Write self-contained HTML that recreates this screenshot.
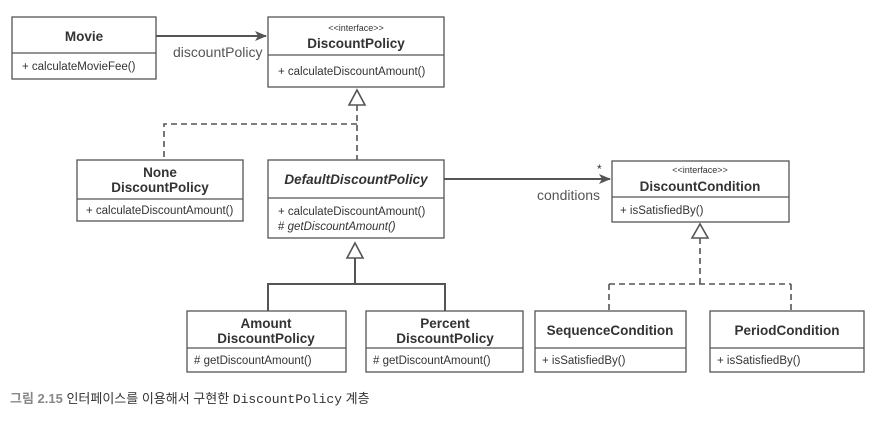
<!DOCTYPE html>
<html><head><meta charset="utf-8"><style>
html,body{margin:0;padding:0;background:#fff;width:881px;height:424px;overflow:hidden}
text{font-family:"Liberation Sans",sans-serif;fill:#333}
.b{font-weight:bold;font-size:13.5px}
.m{font-size:11.5px}
.s{font-size:9px}
</style></head><body>
<svg width="881" height="424" xmlns="http://www.w3.org/2000/svg">
<defs><marker id="ah" markerWidth="12" markerHeight="10" refX="11" refY="5" orient="auto" markerUnits="userSpaceOnUse"><path d="M0,0 L12,5 L0,10 L3,5Z" fill="#555"/></marker></defs>
<g fill="#fff" stroke="#555" stroke-width="1.3">
<rect x="12" y="17" width="144" height="62"/><line x1="12" y1="53" x2="156" y2="53"/>
<rect x="268" y="17" width="176" height="70"/><line x1="268" y1="55" x2="444" y2="55"/>
<rect x="77" y="160" width="166" height="61"/><line x1="77" y1="199" x2="243" y2="199"/>
<rect x="268" y="160" width="176" height="78"/><line x1="268" y1="198" x2="444" y2="198"/>
<rect x="612" y="161" width="177" height="61"/><line x1="612" y1="197" x2="789" y2="197"/>
<rect x="187" y="311" width="159" height="61"/><line x1="187" y1="348" x2="346" y2="348"/>
<rect x="366" y="311" width="157" height="61"/><line x1="366" y1="348" x2="523" y2="348"/>
<rect x="535" y="311" width="151" height="61"/><line x1="535" y1="348" x2="686" y2="348"/>
<rect x="710" y="311" width="154" height="61"/><line x1="710" y1="348" x2="864" y2="348"/>
</g>
<g stroke="#555" stroke-width="2" fill="none">
<line x1="156" y1="36" x2="266" y2="36" marker-end="url(#ah)"/>
<line x1="444" y1="179" x2="610" y2="179" marker-end="url(#ah)"/>
<polyline points="355,258 355,284 268,284 268,311"/>
<polyline points="355,284 445,284 445,311"/>
</g>
<g stroke="#555" stroke-width="1.6" fill="none" stroke-dasharray="6,4">
<polyline points="357,105 357,160"/>
<polyline points="357,124 164,124 164,160"/>
<polyline points="700,238 700,284"/>
<polyline points="609,284 791,284"/>
<polyline points="609,284 609,311"/>
<polyline points="791,284 791,311"/>
</g>
<g fill="#fff" stroke="#555" stroke-width="1.6">
<path d="M357,90 L365,105 L349,105Z"/>
<path d="M355,243 L363,258 L347,258Z"/>
<path d="M700,224 L708,238 L692,238Z"/>
</g>
<text class="b" x="84" y="41" text-anchor="middle">Movie</text>
<text class="m" x="22" y="70">+ calculateMovieFee()</text>
<text class="m" x="173" y="57" style="font-size:14px;fill:#555">discountPolicy</text>
<text class="s" x="356" y="31" text-anchor="middle">&lt;&lt;interface&gt;&gt;</text>
<text class="b" x="356" y="48" text-anchor="middle">DiscountPolicy</text>
<text class="m" x="278" y="75">+ calculateDiscountAmount()</text>
<text class="b" x="160" y="177" text-anchor="middle">None</text>
<text class="b" x="160" y="192" text-anchor="middle">DiscountPolicy</text>
<text class="m" x="86" y="214">+ calculateDiscountAmount()</text>
<text class="b" x="356" y="184" text-anchor="middle" font-style="italic">DefaultDiscountPolicy</text>
<text class="m" x="278" y="215">+ calculateDiscountAmount()</text>
<text class="m" x="278" y="230"># <tspan font-style="italic">getDiscountAmount()</tspan></text>
<text x="597" y="173" style="font-size:12px">*</text>
<text x="537" y="200" style="font-size:14px;fill:#555">conditions</text>
<text class="s" x="700" y="173" text-anchor="middle">&lt;&lt;interface&gt;&gt;</text>
<text class="b" x="700" y="191" text-anchor="middle">DiscountCondition</text>
<text class="m" x="620" y="214">+ isSatisfiedBy()</text>
<text class="b" x="266" y="328" text-anchor="middle">Amount</text>
<text class="b" x="266" y="343" text-anchor="middle">DiscountPolicy</text>
<text class="m" x="194" y="364"># getDiscountAmount()</text>
<text class="b" x="445" y="328" text-anchor="middle">Percent</text>
<text class="b" x="445" y="343" text-anchor="middle">DiscountPolicy</text>
<text class="m" x="373" y="364"># getDiscountAmount()</text>
<text class="b" x="610" y="335" text-anchor="middle">SequenceCondition</text>
<text class="m" x="542" y="364">+ isSatisfiedBy()</text>
<text class="b" x="787" y="335" text-anchor="middle">PeriodCondition</text>
<text class="m" x="717" y="364">+ isSatisfiedBy()</text>
<text x="10" y="403" style="font-size:13px;font-family:'Liberation Sans','Noto Sans CJK KR',sans-serif"><tspan fill="#888" font-weight="bold">그림 2.15</tspan> 인터페이스를 이용해서 구현한 <tspan style="font-family:'Liberation Mono',monospace">DiscountPolicy</tspan> 계층</text>
</svg>
</body></html>
